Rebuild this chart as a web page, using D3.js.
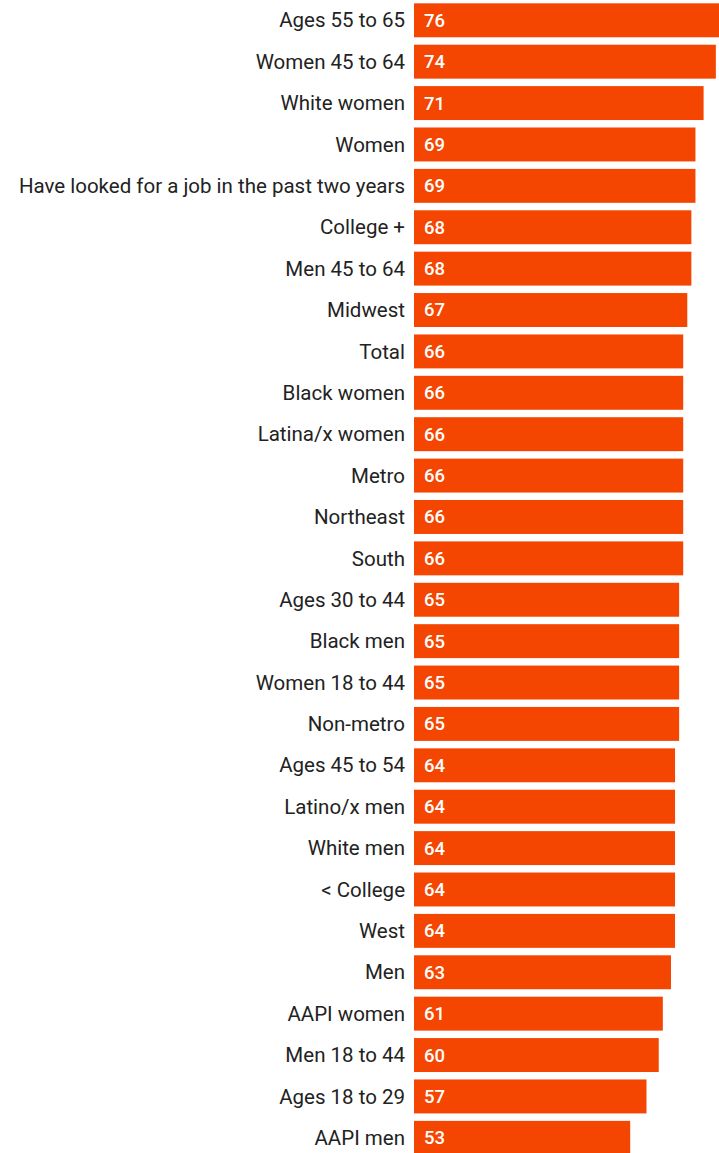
<!DOCTYPE html>
<html>
<head>
<meta charset="utf-8">
<script src="https://cdn.jsdelivr.net/npm/d3@7"></script>
<style>
  body { margin: 0; background: #fff; }
  svg { display: block; }
  .label { font-family: Roboto, sans-serif; font-size: 20.5px; fill: #222; }
  .value { font-family: Roboto, sans-serif; font-size: 18.5px; font-weight: 500; fill: #fff; }
</style>
</head>
<body>
<svg></svg>
<script>
let groups = [
  'Ages 55 to 65', 'Women 45 to 64', 'White women', 'Women',
  'Have looked for a job in the past two years', 'College +', 'Men 45 to 64',
  'Midwest', 'Total', 'Black women', 'Latina/x women', 'Metro', 'Northeast',
  'South', 'Ages 30 to 44', 'Black men', 'Women 18 to 44', 'Non-metro',
  'Ages 45 to 54', 'Latino/x men', 'White men', '< College', 'West', 'Men',
  'AAPI women', 'Men 18 to 44', 'Ages 18 to 29', 'AAPI men'
]
let values = [
  76, 74, 71, 69, 69, 68, 68, 67, 66, 66, 66, 66, 66, 66,
  65, 65, 65, 65, 64, 64, 64, 64, 64, 63, 61, 60, 57, 53
]

let width = 719
let height = 1153
let barLeft = 414

let dataset = groups.map((g, i) => ({ group: g, value: values[i] }))

let svg = d3.select('svg')
svg.attr('width', width)
   .attr('height', height)

let xScale = d3.scaleLinear()
               .domain([0, 76])
               .range([barLeft, barLeft + 310])

let yScale = d3.scaleBand()
               .domain(groups)
               .range([-0.4, -0.4 + groups.length * 41.39])
               .paddingInner(0.18)
               .paddingOuter(0.09)

let rows = svg.selectAll('g.row')
              .data(dataset)
              .enter()
              .append('g')
              .attr('class', 'row')
              .attr('transform', (d) => 'translate(0,' + yScale(d.group) + ')')

rows.append('rect')
    .attr('x', xScale(0))
    .attr('width', (d) => xScale(d.value) - xScale(0))
    .attr('height', yScale.bandwidth())
    .attr('fill', '#f44600')

rows.append('text')
    .attr('class', 'label')
    .attr('x', barLeft - 9)
    .attr('y', yScale.bandwidth() / 2)
    .attr('dy', '0.35em')
    .attr('text-anchor', 'end')
    .text((d) => d.group)

rows.append('text')
    .attr('class', 'value')
    .attr('x', xScale(0) + 10)
    .attr('y', yScale.bandwidth() / 2)
    .attr('dy', '0.35em')
    .text((d) => d.value)
</script>
</body>
</html>
